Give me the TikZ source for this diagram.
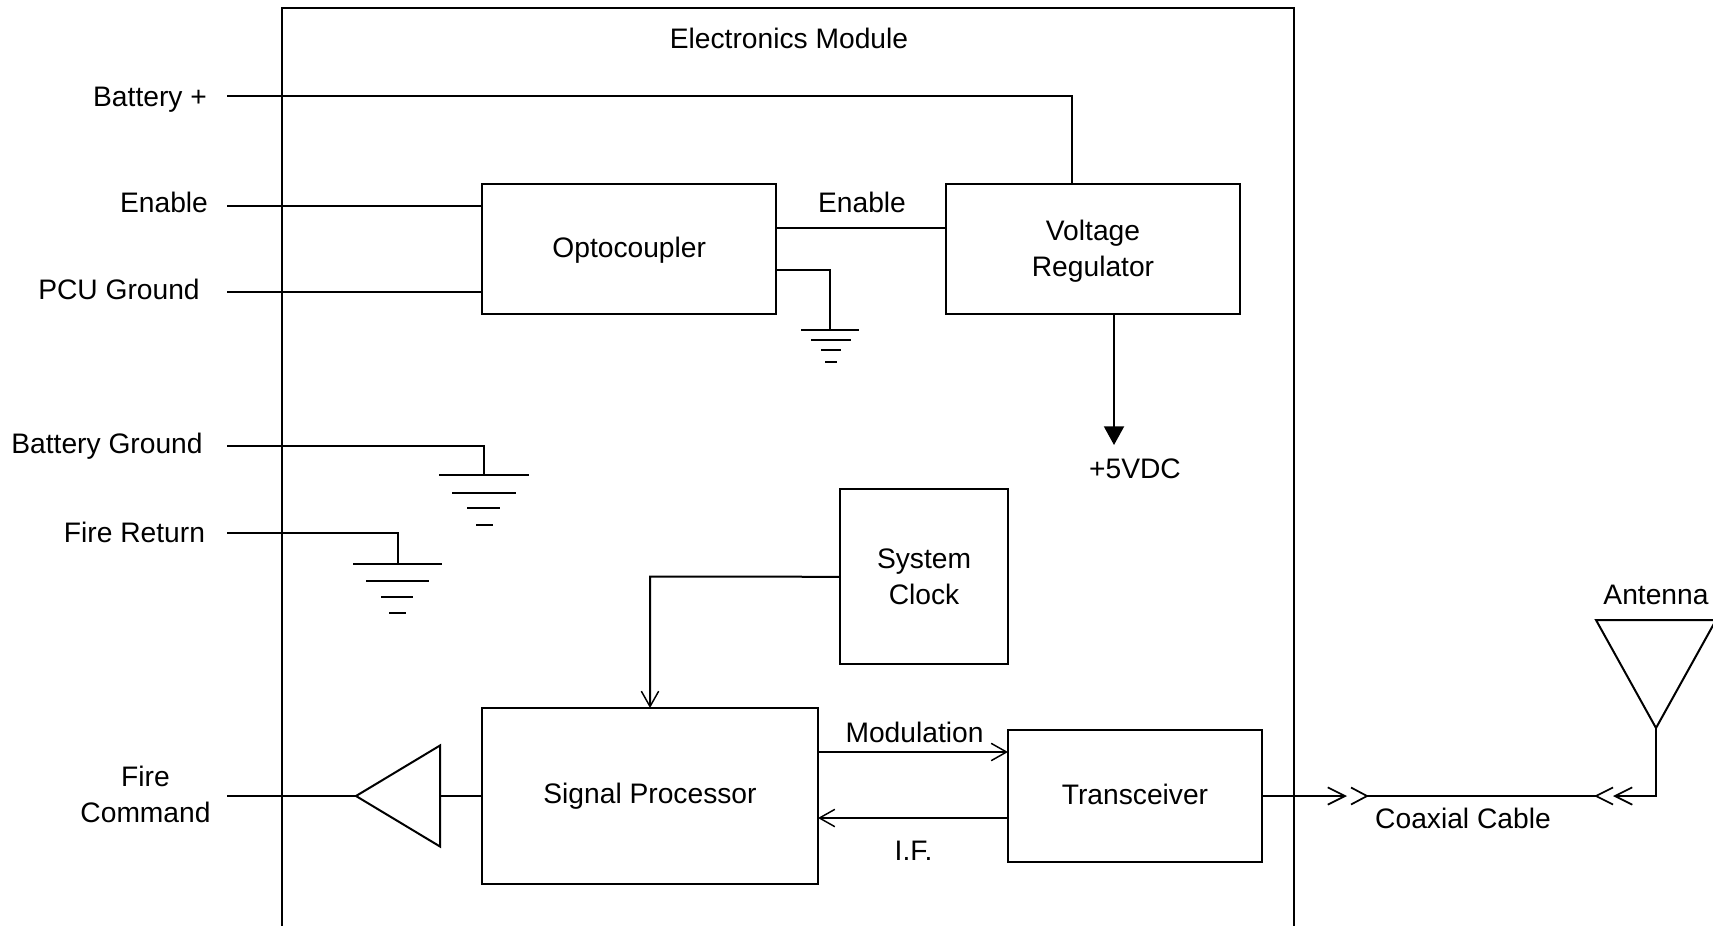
\documentclass[tikz,border=0pt]{standalone}
\usepackage{fontspec}
\setmainfont{Liberation Sans}
\usetikzlibrary{arrows.meta,calc}
\newcommand{\txtshift}[2]{\raisebox{#1}[\height][\depth]{#2}}
\tikzset{
  wire/.style={line width=1.5pt,line cap=butt,line join=miter},
  blockbox/.style={draw,line width=1.5pt,rectangle,inner sep=0pt,outer sep=0pt,align=center,font=\fontsize{21.15}{27}\selectfont},
  lbl/.style={inner sep=0pt,outer sep=0pt,align=center,font=\fontsize{21.15}{27}\selectfont},
  open/.style={-{Straight Barb[length=11.5pt,width=13pt,line width=1.1pt]}},
  filled/.style={-{Triangle[length=14pt,width=15pt]}},
  coaxtip/.style={-{Straight Barb[length=13pt,width=13pt,line width=1.3pt]}},
  chevron/.style={line width=1.3pt,line join=miter}
}
\begin{document}
\begin{tikzpicture}[x=0.75pt,y=-0.75pt]
\clip (0,0) rectangle (1713,925);
% outer module (runs off the bottom)
\draw[wire] (282,1000) -- (282,8) -- (1294,8) -- (1294,1000);
\node[lbl] (title) at (789,38) {Electronics Module};
% blocks
\node[blockbox,minimum width=220.5pt,minimum height=97.5pt] (opto) at (629.2,249) {\txtshift{-0.8pt}{Optocoupler}};
\node[blockbox,minimum width=221pt,minimum height=97.5pt] (vreg) at (1093,249) {\txtshift{-1.5pt}{Voltage}\\\txtshift{-1.5pt}{Regulator}};
\node[blockbox,minimum width=126pt,minimum height=131pt] (clock) at (924,576.8) {System\\Clock};
\node[blockbox,minimum width=252pt,minimum height=132pt] (sp) at (650,796) {Signal Processor};
\node[blockbox,minimum width=190.5pt,minimum height=99pt] (tx) at (1135,796.3) {\txtshift{1.6pt}{Transceiver}};
% side labels
\node[lbl] (lbat) at (150,99.5) {Battery +};
\node[lbl] (len) at (164,202) {Enable};
\node[lbl] (lpcu) at (119,289) {PCU Ground};
\node[lbl] (lbg) at (107,446) {Battery Ground};
\node[lbl] (lfr) at (134.5,532) {Fire Return};
\node[lbl] (lfc) at (145.5,794) {Fire\\Command};
% inner labels
\node[lbl] (lenb) at (862,202) {Enable};
\node[lbl] (l5v) at (1135,469) {+5VDC};
\node[lbl] (lmod) at (914.5,732) {Modulation};
\node[lbl] (lif) at (913.5,851) {I.F.};
\node[lbl] (lcx) at (1463,818) {Coaxial Cable};
\node[lbl] (lant) at (1656,595) {Antenna};
% free ends
\coordinate (batS) at (227,96);
\coordinate (enS) at (227,205.5);
\coordinate (pcuS) at (227,292);
\coordinate (bgS) at (227,446);
\coordinate (frS) at (227,533);
\coordinate (fcS) at (227,796);
% connectors
\draw[wire] (batS) -- (1072,96) -- (1072,184);
\draw[wire] (enS) -- (enS -| opto.west);
\draw[wire] (pcuS) -- (pcuS -| opto.west);
\coordinate (optoEn) at (777,228);
\draw[wire] (optoEn) -- (optoEn -| vreg.west);
% amplifier
\coordinate (ampT) at (356,796);
\coordinate (ampA) at (440,745.5);
\coordinate (ampB) at (440,846.5);
\coordinate (ampM) at (440,796);
\draw[wire] (ampT) -- (ampA) -- (ampB) -- cycle;
\draw[wire] (fcS) -- (ampT);
\draw[wire] (ampM) -- (sp.west);
% opto ground
\coordinate (og) at (830,330);
\draw[wire] (777,270) -- (830,270) -- (og);
\draw[wire] (801,330) -- (859,330) (811,340) -- (851,340) (821,350) -- (841,350) (825,362) -- (837,362);
% battery ground
\coordinate (bgG) at (484,475);
\draw[wire] (bgS) -- (484,446) -- (bgG);
\draw[wire] (439,475) -- (529,475) (452,492.5) -- (516,492.5) (467,508) -- (500,508) (476,525) -- (493,525);
% fire return ground
\coordinate (frG) at (398,564);
\draw[wire] (frS) -- (398,533) -- (frG);
\draw[wire] (353,564) -- (442,564) (366,581) -- (429,581) (381,596.5) -- (413,596.5) (389,613) -- (406,613);
% +5V
\coordinate (v5) at (1114,445);
\draw[wire,filled] (v5 |- vreg.south) -- (v5);
% clock to processor
\draw[wire,open] (clock.west) -- (650,576.5) -- (sp.north);
% modulation, IF
\coordinate (modS) at (818,752);
\coordinate (ifS) at (1040,818);
\draw[wire,open] (modS) -- (modS -| tx.west);
\draw[wire,open] (ifS -| tx.west) -- (ifS -| sp.east);
% coax
\coordinate (txO) at (1262,796);
\coordinate (c1) at (1347,796);
\coordinate (c2) at (1367,796);
\coordinate (c3) at (1596,796);
\coordinate (c4) at (1613,796);
\coordinate (ant) at (1656,728);
\draw[wire,coaxtip] (txO) -- (c1);
\draw[wire] (c2) -- (c3);
\draw[chevron] (1351,787.5) -- (c2) -- (1351,804.5);
\draw[chevron] (1613,787.5) -- (c3) -- (1613,804.5);
\draw[wire,coaxtip] (ant) -- (1656,796) -- (c4);
% antenna
\draw[wire] (ant) -- (1596,620) -- (1716,620) -- cycle;
\end{tikzpicture}
\end{document}
